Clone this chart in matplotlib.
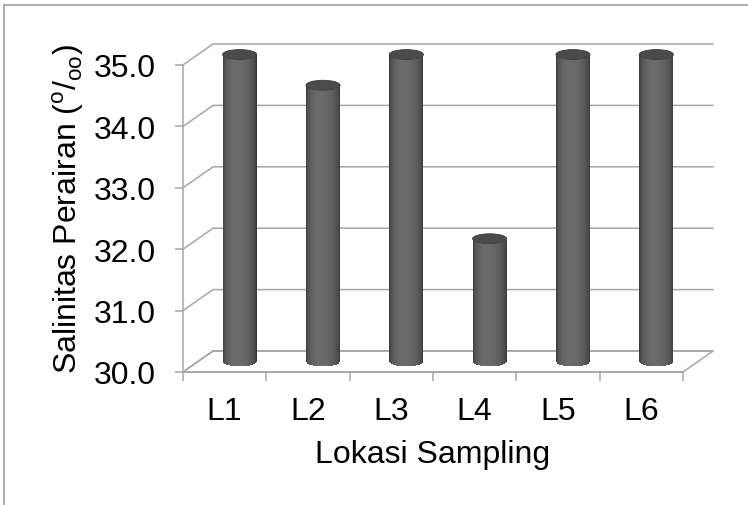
import numpy as np
import matplotlib.pyplot as plt
from matplotlib.patches import Ellipse, Polygon
from matplotlib.lines import Line2D

# data
lokasi = ['L1', 'L2', 'L3', 'L4', 'L5', 'L6']
salinitas = [35.0, 34.5, 35.0, 32.0, 35.0, 35.0]
y_ticks = [30.0, 31.0, 32.0, 33.0, 34.0, 35.0]

plt.rcParams['font.family'] = ['Liberation Sans', 'DejaVu Sans']
plt.rcParams['mathtext.fontset'] = 'custom'
plt.rcParams['mathtext.rm'] = 'Liberation Sans'

W, H, DPI = 748, 506, 100
fig = plt.figure(figsize=(W / DPI, H / DPI), dpi=DPI)
ax = fig.add_axes([183 / W, 1 - 373 / H, 500 / W, 307 / H])
ax.set_xlim(-0.5, 5.5)
ax.set_ylim(y_ticks[0], y_ticks[-1])

grid = '#a6a6a6'
lw = 1.1
fs = 23
# depth of the 3d box in data units (~30px right, ~21px up)
DX = 0.36
DY = 0.342
x0, x1 = -0.5, len(lokasi) - 0.5
ybase = y_ticks[0]

# floor
floor = Polygon([(x0, ybase), (x1, ybase), (x1 + DX, ybase + DY), (x0 + DX, ybase + DY)],
                closed=True, facecolor='white', edgecolor=grid, lw=lw, clip_on=False, zorder=1)
ax.add_patch(floor)

# back wall + side wall gridlines
for y in y_ticks:
    ax.plot([x0, x0 + DX, x1 + DX], [y, y + DY, y + DY], color=grid, lw=lw,
            clip_on=False, zorder=1, solid_joinstyle='miter')

# cylinders
w = 0.205   # half width
e = 0.08    # half height of ellipse
n = 48
u = np.linspace(-1 + 1 / n, 1 - 1 / n, n)
p = -0.2
t = np.where(u > p, (u - p) / (1 - p), (u - p) / (1 + p))
shade = 0.19 + 0.23 * np.sqrt(np.clip(1 - t ** 2, 0, 1))
cols = [(g, g, g) for g in shade]
for i, v in enumerate(salinitas):
    c = i + DX / 2
    xs = c + u * w
    curve = e * np.sqrt(1 - u ** 2)
    ax.bar(xs, np.full(n, v - ybase), width=2 * w / n * 1.15,
           bottom=ybase + DY / 2 - curve, color=cols, linewidth=0,
           clip_on=False, zorder=3)
    ax.add_patch(Ellipse((c, v + DY / 2), 2 * w, 2 * e, facecolor='#4b4b4b',
                         edgecolor='#3c3c3c', lw=0.6, clip_on=False, zorder=4))

# axes styling
for s in ['top', 'right']:
    ax.spines[s].set_visible(False)
for s in ['left', 'bottom']:
    ax.spines[s].set_color(grid)
    ax.spines[s].set_linewidth(lw)
ax.set_facecolor('none')

ax.set_yticks(y_ticks)
ax.set_yticklabels(['%.1f' % y for y in y_ticks])
ax.tick_params(axis='y', direction='out', length=5.8, width=lw, color=grid,
               pad=14, labelsize=fs)

ax.set_xticks(range(len(lokasi)))
ax.set_xticklabels(lokasi)
ax.set_xticks(np.arange(x0, x1 + 0.01, 1), minor=True)
ax.tick_params(axis='x', which='major', length=0, pad=17, labelsize=fs)
ax.tick_params(axis='x', which='minor', direction='out', length=6.5, width=lw, color=grid)

ax.set_xlabel('Lokasi Sampling', fontsize=fs, labelpad=10)
fig.text(68 / W, 1 - 209 / H, r'Salinitas Perairan ($^{\mathregular{o}}$/$_{\mathregular{oo}}$)',
         rotation=90, ha='center', va='center', fontsize=fs)

# chart border (partly outside the picture)
bc = '#a0a0a0'
fig.add_artist(Line2D([4 / W, 4 / W], [0, 1 - 6 / H], transform=fig.transFigure, color=bc, lw=1.2))
fig.add_artist(Line2D([4 / W, 1], [1 - 6 / H, 1 - 6 / H], transform=fig.transFigure, color=bc, lw=1.2))

fig.savefig('out.png', dpi=DPI)
